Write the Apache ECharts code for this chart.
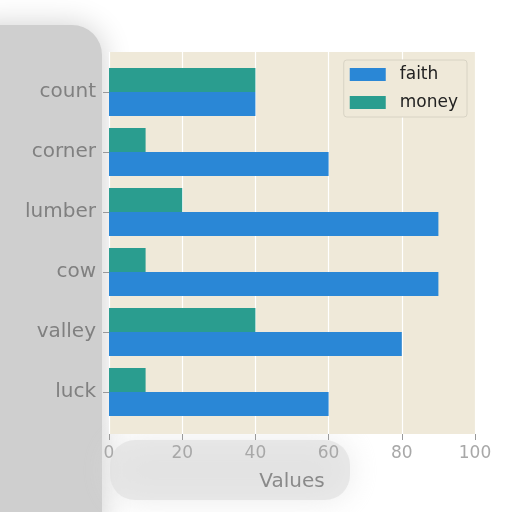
<!DOCTYPE html>
<html><head><meta charset="utf-8">
<script src="https://cdn.jsdelivr.net/npm/echarts@6/dist/echarts.min.js"></script>
<style>html,body{margin:0;padding:0;background:#fff}#c{width:512px;height:512px}</style>
</head><body><div id="c"></div>
<script>
const categories = ["count", "corner", "lumber", "cow", "valley", "luck"];
const faith = [40, 60, 90, 90, 80, 60];
const money = [40, 10, 20, 10, 40, 10];
const xTicks = [0, 20, 40, 60, 80, 100];

const chart = echarts.init(document.getElementById('c'), null, {renderer: 'canvas'});
chart.setOption({
  animation: false,
  backgroundColor: '#ffffff',
  graphic: [
    {type: 'rect', z: -10, shape: {x: -40, y: 25, width: 142, height: 520, r: 30},
     style: {fill: '#cfcfcf', shadowBlur: 30, shadowColor: '#cfcfcf'}},
    {type: 'rect', z: -10, shape: {x: 110, y: 440, width: 240, height: 60, r: 25},
     style: {fill: '#dedede', shadowBlur: 30, shadowColor: '#dedede', opacity: 0.6}}
  ],
  grid: [
    {left: 109, right: 37, top: 52, bottom: 78, backgroundColor: '#efe9d9', show: true, borderWidth: 0, z: 0},
    {left: 109, right: 37, top: 62, bottom: 90, show: false}
  ],
  legend: {
    data: ['faith', 'money'],
    right: 45, top: 60,
    orient: 'vertical',
    icon: 'rect',
    itemWidth: 36, itemHeight: 13, itemGap: 11,
    backgroundColor: '#efe9d9', borderColor: '#d8d3c4', borderWidth: 1, borderRadius: 3,
    padding: [6, 9, 6, 6],
    textStyle: {color: '#222', fontSize: 17, fontFamily: 'DejaVu Sans', padding: [0, 0, 0, 9]}
  },
  xAxis: [
    {
      gridIndex: 0, type: 'value', min: 0, max: 100, interval: 20,
      name: 'Values', nameLocation: 'middle', nameGap: 38,
      nameTextStyle: {color: '#8a8a8a', fontSize: 20, fontFamily: 'DejaVu Sans'},
      axisLine: {show: false},
      axisTick: {show: true, length: 6, lineStyle: {color: '#9a9a9a'}},
      axisLabel: {color: '#a8a8a8', fontSize: 17, fontFamily: 'DejaVu Sans', margin: 11},
      splitLine: {show: true, lineStyle: {color: '#ffffff', width: 1.2}}
    },
    {gridIndex: 1, type: 'value', min: 0, max: 100, show: false}
  ],
  yAxis: [
    {gridIndex: 0, type: 'value', min: 0, max: 1, show: false},
    {
      gridIndex: 1, type: 'category', data: categories, inverse: true,
      axisLine: {show: false},
      axisTick: {show: true, length: 6, alignWithLabel: true, lineStyle: {color: '#9a9a9a'}},
      axisLabel: {color: '#808080', fontSize: 20, fontFamily: 'DejaVu Sans', margin: 13},
      splitLine: {show: false}
    }
  ],
  series: [
    {name: 'money', type: 'bar', xAxisIndex: 1, yAxisIndex: 1, data: money,
     itemStyle: {color: '#2a9d8f'}, barGap: '0%', barCategoryGap: '20%'},
    {name: 'faith', type: 'bar', xAxisIndex: 1, yAxisIndex: 1, data: faith,
     itemStyle: {color: '#2a87d6'}, barGap: '0%', barCategoryGap: '20%'}
  ]
});
</script></body></html>
